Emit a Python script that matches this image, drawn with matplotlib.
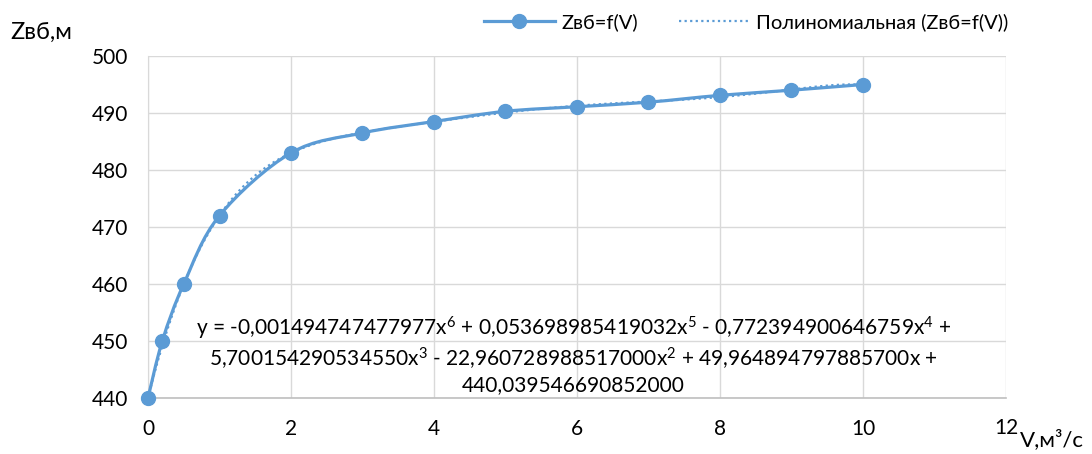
import matplotlib
matplotlib.use("Agg")
import matplotlib.pyplot as plt
import numpy as np
from matplotlib.path import Path
from matplotlib.patches import PathPatch
from matplotlib.lines import Line2D

# values
v = [0, 0.2, 0.5, 1, 2, 3, 4, 5, 6, 7, 8, 9, 10]
z = [440, 450, 460, 472, 483, 486.5, 488.5, 490.3, 491.1, 491.9, 493.1, 494, 495]

# trendline coefficients as printed on the chart (x^6 ... x^0)
coef = [-0.001494747477977, 0.053698985419032, -0.772394900646759,
        5.700154290534550, -22.960728988517000, 49.964894797885700,
        440.039546690852000]

eq_text = ("y = -0,001494747477977x$^{6}$ + 0,053698985419032x$^{5}$ - 0,772394900646759x$^{4}$ +\n"
           "5,700154290534550x$^{3}$ - 22,960728988517000x$^{2}$ + 49,964894797885700x +\n"
           "440,039546690852000")

blue = "#5B9BD5"
plt.rcParams['font.family'] = ['Lato', 'DejaVu Sans']
plt.rcParams['mathtext.fontset'] = 'custom'
plt.rcParams['mathtext.rm'] = 'Lato'
plt.rcParams['mathtext.it'] = 'Lato'
plt.rcParams['mathtext.default'] = 'regular'

fig = plt.figure(figsize=(10.92, 4.54), dpi=100)
ax = fig.add_axes([148 / 1092, 1 - 398 / 454, 858 / 1092, 342 / 454])

ax.set_xlim(0, 12)
ax.set_ylim(440, 500)
ax.set_xticks(range(0, 13, 2))
ax.set_yticks(range(440, 501, 10))
ax.set_xticklabels(["0", "2", "4", "6", "8", "10", ""])
ax.grid(True, color="#D9D9D9", linewidth=1.0)
ax.set_axisbelow(True)
for s in ["top", "right"]:
    ax.spines[s].set_visible(False)
ax.spines["left"].set_color("#D9D9D9")
ax.spines["bottom"].set_color("#BFBFBF")
ax.spines["bottom"].set_linewidth(1.2)
ax.tick_params(length=0, labelsize=15)
ax.tick_params(axis="y", pad=14.5)
ax.tick_params(axis="x", pad=15)

# smoothed series line (Bezier through the points)
pts = np.column_stack([v, z]).astype(float)
verts = [pts[0]]
codes = [Path.MOVETO]
n = len(pts)
for i in range(n - 1):
    p0 = pts[max(i - 1, 0)]
    p1 = pts[i]
    p2 = pts[i + 1]
    p3 = pts[min(i + 2, n - 1)]
    verts += [p1 + (p2 - p0) / 6, p2 - (p3 - p1) / 6, p2]
    codes += [Path.CURVE4] * 3
ax.add_patch(PathPatch(Path(verts, codes), facecolor="none", edgecolor=blue,
                       linewidth=2.3, zorder=3, capstyle="round", clip_on=False))
ax.plot(v, z, linestyle="none", marker="o", markersize=10, color=blue,
        zorder=4, clip_on=False)

# polynomial trendline
xs = np.linspace(0, 10, 300)
ax.plot(xs, np.polyval(coef, xs), linestyle=(0, (1, 1.5)), color=blue,
        linewidth=1.6, zorder=5, clip_on=False)

ax.text(5.95, 447.5, eq_text, ha="center", va="center", fontsize=15,
        linespacing=1.2, zorder=6)

fig.text(10 / 1092, 1 - 32 / 454, "Zвб,м", fontsize=17, va="center", ha="left")
fig.text(1006 / 1092, 1 - 428 / 454, "12", fontsize=15, va="center", ha="center")
fig.text(1020 / 1092, 1 - 440 / 454, "V,м³/с", fontsize=16, va="center", ha="left")

handles = [Line2D([], [], color=blue, linewidth=2.3, marker="o", markersize=10),
           Line2D([], [], color=blue, linewidth=1.6, linestyle=(0, (1, 1.5)))]
fig.legend(handles, ["Zвб=f(V)", "Полиномиальная (Zвб=f(V))"], loc="center left",
           bbox_to_anchor=(466 / 1092, 1 - 22 / 454), ncol=2, frameon=False,
           fontsize=14.5, handlelength=3.5, columnspacing=2.0, handletextpad=0.35)

fig.savefig("out.png", dpi=100)
